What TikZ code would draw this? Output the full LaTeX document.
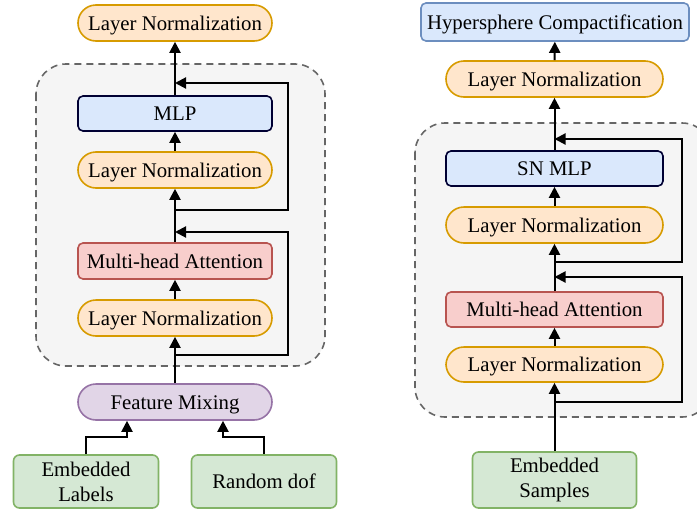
\documentclass[tikz,border=0pt]{standalone}
\usepackage{fontspec}
\setmainfont{Liberation Serif}
\usetikzlibrary{arrows.meta}
\definecolor{lnfill}{HTML}{FFE6CC}
\definecolor{lndraw}{HTML}{D79B00}
\definecolor{bluefill}{HTML}{DAE8FC}
\definecolor{bluedraw}{HTML}{6C8EBF}
\definecolor{navy}{HTML}{000033}
\definecolor{redfill}{HTML}{F8CECC}
\definecolor{reddraw}{HTML}{B85450}
\definecolor{purfill}{HTML}{E1D5E7}
\definecolor{purdraw}{HTML}{9673A6}
\definecolor{grnfill}{HTML}{D5E8D4}
\definecolor{grndraw}{HTML}{82B366}
\definecolor{boxfill}{HTML}{F5F5F5}
\definecolor{boxdraw}{HTML}{666666}
\tikzset{
  base/.style={draw, line width=1.6pt, inner sep=0pt, align=center,
    font=\fontsize{20.8}{25}\selectfont, text=black},
  oneline/.style={text height=17pt, text depth=3pt},
  ln/.style={base, oneline, fill=lnfill, draw=lndraw, rounded corners=18pt,
    minimum width=194pt, minimum height=36pt},
  mlpbox/.style={base, oneline, fill=bluefill, draw=navy, rounded corners=5pt,
    minimum width=194pt, minimum height=35pt},
  mhabox/.style={base, oneline, fill=redfill, draw=reddraw, rounded corners=5pt,
    minimum width=194pt, minimum height=36pt},
  fmbox/.style={base, oneline, fill=purfill, draw=purdraw, rounded corners=18pt,
    minimum width=194pt, minimum height=36pt},
  inbox/.style={base, fill=grnfill, draw=grndraw, rounded corners=6pt,
    minimum width=145pt, minimum height=53pt},
  hcbox/.style={base, oneline, fill=bluefill, draw=bluedraw, rounded corners=5pt,
    minimum width=268pt, minimum height=38pt},
  container/.style={draw=boxdraw, fill=boxfill, line width=1.6pt,
    dash pattern=on 7pt off 5pt, rounded corners=30pt},
  arr/.style={line width=2pt, -{Triangle[length=11pt,width=11pt]}},
}
\begin{document}
\begin{tikzpicture}[x=1pt,y=-1pt]
\useasboundingbox (0,0) rectangle (697,509);
% containers
\draw[container] (36,64) rectangle (325,366);
\draw[container] (415,123) rectangle (712,417);

% ---- left column ----
\node[ln] (ln0) at (175,23) {Layer Normalization};
\node[mlpbox] (mlp) at (175,113.5) {MLP};
\node[ln] (ln1) at (175,170) {Layer Normalization};
\node[mhabox] (mha) at (175,261) {Multi-head Attention};
\node[ln] (ln2) at (175,318) {Layer Normalization};
\node[fmbox] (fm) at (175,402) {Feature Mixing};
\node[inbox] (el) at (86,481.5) {Embedded\\Labels};
\node[inbox, oneline] (rd) at (264,481.5) {Random dof};

\coordinate (s1) at (175,83);
\coordinate (j1) at (175,210);
\coordinate (s2) at (175,232);
\coordinate (j2) at (175,355);

\draw[arr] (fm) -- (ln2);
\draw[arr] (ln2) -- (mha);
\draw[arr] (mha) -- (ln1);
\draw[arr] (ln1) -- (mlp);
\draw[arr] (mlp) -- (ln0);
\draw[arr] (j1) -- ++(113,0) |- (s1);
\draw[arr] (j2) -- ++(113,0) |- (s2);
\draw[arr] (el.north) -- ++(0,-17) -| ([xshift=-48pt]fm.south);
\draw[arr] (rd.north) -- ++(0,-17) -| ([xshift=48pt]fm.south);

% ---- right column ----
\node[hcbox] (hc) at (555,22) {Hypersphere Compactification};
\node[ln, minimum width=217pt] (rln0) at (554.5,79) {Layer Normalization};
\node[mlpbox, minimum width=217pt] (snmlp) at (554.5,168.5) {SN MLP};
\node[ln, minimum width=217pt] (rln1) at (554.5,225) {Layer Normalization};
\node[mhabox, minimum width=217pt, minimum height=35pt] (rmha) at (554.5,309.5) {Multi-head Attention};
\node[ln, minimum width=217pt, minimum height=35pt] (rln2) at (554.5,364.5) {Layer Normalization};
\node[inbox, minimum width=164pt, minimum height=56pt] (es) at (554.5,480) {Embedded\\Samples};

\coordinate (s3) at (554.5,139);
\coordinate (j3) at (554.5,262);
\coordinate (s4) at (554.5,277);
\coordinate (j4) at (554.5,402);

\draw[arr] (es) -- (rln2);
\draw[arr] (rln2) -- (rmha);
\draw[arr] (rmha) -- (rln1);
\draw[arr] (rln1) -- (snmlp);
\draw[arr] (snmlp) -- (rln0);
\draw[arr] (rln0) -- (hc);
\draw[arr] (j3) -- ++(127.5,0) |- (s3);
\draw[arr] (j4) -- ++(127.5,0) |- (s4);
\end{tikzpicture}
\end{document}
